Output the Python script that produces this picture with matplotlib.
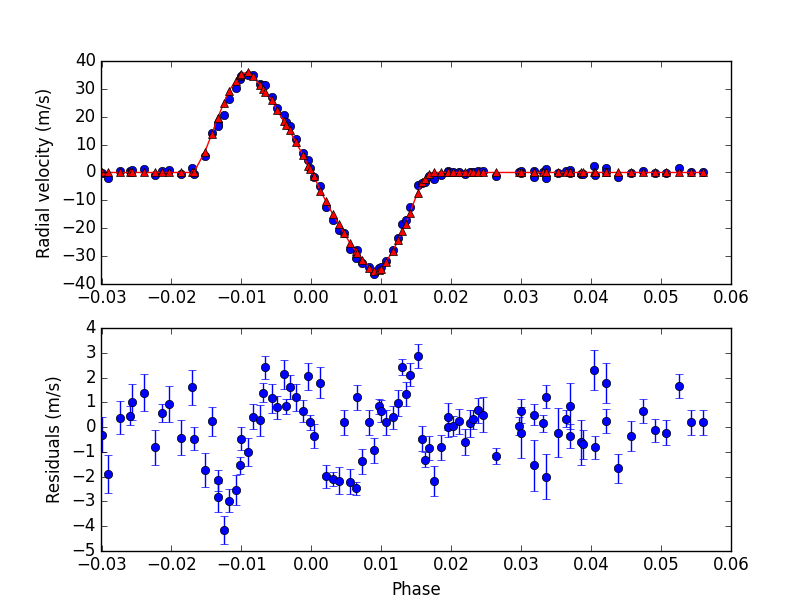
import numpy as np
import matplotlib
matplotlib.use("Agg")
import matplotlib.pyplot as plt

plt.style.use('classic')

# phase of each observation
phase = [-0.0300, -0.0291, -0.0274, -0.0259, -0.0256, -0.0239, -0.0223, -0.0214, -0.0203, -0.0186,
         -0.0171, -0.0168, -0.0152, -0.0142, -0.0134, -0.0134, -0.0125, -0.0118, -0.0108, -0.0102,
         -0.0101, -0.0091, -0.0083, -0.0074, -0.0069, -0.0066, -0.0056, -0.0049, -0.0039, -0.0036,
         -0.0031, -0.0022, -0.0012, -0.0004, -0.0002, 0.0004, 0.0013, 0.0021, 0.0031, 0.0039,
         0.0047, 0.0055, 0.0064, 0.0066, 0.0073, 0.0083, 0.0090, 0.0097, 0.0100, 0.0107,
         0.0117, 0.0124, 0.0130, 0.0135, 0.0141, 0.0152, 0.0159, 0.0162, 0.0169, 0.0176,
         0.0186, 0.0195, 0.0196, 0.0203, 0.0211, 0.0220, 0.0227, 0.0231, 0.0238, 0.0246,
         0.0264, 0.0297, 0.0300, 0.0300, 0.0318, 0.0318, 0.0331, 0.0335, 0.0335, 0.0353,
         0.0364, 0.0370, 0.0370, 0.0386, 0.0388, 0.0404, 0.0406, 0.0422, 0.0422, 0.0439,
         0.0457, 0.0475, 0.0492, 0.0508, 0.0526, 0.0543, 0.0560]

# model radial velocity at each phase (m/s)
model = [0.0, 0.0, 0.0, 0.0, 0.0, 0.0, 0.0, 0.0, 0.0, 0.0,
         0.0, 0.0, 7.5, 14.0, 19.5, 19.5, 25.0, 29.3, 32.8, 35.2,
         35.3, 36.0, 34.5, 31.6, 30.0, 28.9, 25.9, 22.5, 18.4, 17.2,
         15.1, 10.9, 6.3, 2.3, 1.4, -1.4, -6.5, -10.3, -15.1, -18.5,
         -21.9, -25.2, -28.4, -29.0, -31.3, -34.2, -35.4, -35.2, -34.7, -32.1,
         -28.1, -24.4, -20.9, -18.4, -14.5, -7.3, -3.5, -2.2, -0.4, 0.0,
         0.0, 0.0, 0.0, 0.0, 0.0, 0.0, 0.0, 0.0, 0.0, 0.0,
         0.0, 0.0, 0.0, 0.0, 0.0, 0.0, 0.0, 0.0, 0.0, 0.0,
         0.0, 0.0, 0.0, 0.0, 0.0, 0.0, 0.0, 0.0, 0.0, 0.0,
         0.0, 0.0, 0.0, 0.0, 0.0, 0.0, 0.0]

# residuals (m/s) and their errors
resid = [-0.30, -1.90, 0.39, 0.46, 1.01, 1.40, -0.82, 0.57, 0.93, -0.42,
         1.61, -0.46, -1.75, 0.24, -2.15, -2.84, -4.17, -2.97, -2.55, -1.54,
         -0.46, -1.01, 0.43, 0.28, 1.40, 2.42, 1.17, 0.80, 2.13, 0.84,
         1.61, 1.20, 0.65, 2.05, 0.20, -0.36, 1.79, -1.98, -2.09, -2.16,
         0.20, -2.20, -2.48, 1.20, -1.38, 0.20, -0.93, 0.84, 0.65, 0.20,
         0.40, 0.97, 2.42, 1.34, 2.12, 2.87, -0.46, -1.31, -0.85, -2.19,
         -0.81, 0.42, 0.00, 0.04, 0.24, -0.61, 0.15, 0.31, 0.68, 0.51,
         -1.15, 0.04, 0.65, -0.22, 0.51, -1.55, 0.15, 1.24, -2.00, -0.22,
         0.35, 0.84, -0.36, -0.62, -0.70, 2.33, -0.81, 1.77, 0.24, -1.67,
         -0.36, 0.65, -0.12, -0.22, 1.66, 0.19, 0.19]

err = [0.70, 0.77, 0.67, 0.38, 0.72, 0.74, 0.72, 0.38, 0.74, 0.69,
       0.70, 0.47, 0.69, 0.58, 0.42, 0.60, 0.57, 0.47, 0.60, 0.34,
       0.47, 0.58, 0.49, 0.63, 0.37, 0.47, 0.59, 0.46, 0.57, 0.30,
       0.49, 0.54, 0.46, 0.54, 0.30, 0.47, 0.63, 0.47, 0.27, 0.53,
       0.51, 0.50, 0.25, 0.50, 0.50, 0.51, 0.50, 0.30, 0.44, 0.50,
       0.47, 0.52, 0.32, 0.47, 0.46, 0.49, 0.52, 0.29, 0.49, 0.61,
       0.50, 0.54, 0.40, 0.40, 0.50, 0.52, 0.55, 0.38, 0.50, 0.70,
       0.32, 0.36, 0.50, 1.04, 0.43, 1.05, 0.33, 0.48, 0.91, 0.98,
       0.35, 0.93, 0.47, 0.90, 0.57, 0.81, 0.47, 0.81, 0.49, 0.59,
       0.62, 0.50, 0.47, 0.49, 0.49, 0.50, 0.49]

# observed RV = model + residual
rv = np.array(model) + np.array(resid)

fig = plt.figure(figsize=(8.12, 6.12), dpi=100)

ax1 = fig.add_subplot(211)
ax1.plot(phase, rv, 'bo')
ax1.plot(phase, model, 'r^-')
ax1.set_xlim(-0.03, 0.06)
ax1.set_ylim(-40, 40)
ax1.set_ylabel('Radial velocity (m/s)')

ax2 = fig.add_subplot(212)
ax2.errorbar(phase, resid, yerr=err, fmt='bo', ecolor='b')
ax2.set_xlim(-0.03, 0.06)
ax2.set_ylim(-5, 4)
ax2.set_xlabel('Phase')
ax2.set_ylabel('Residuals (m/s)')

fig.savefig('out.png', dpi=100)
